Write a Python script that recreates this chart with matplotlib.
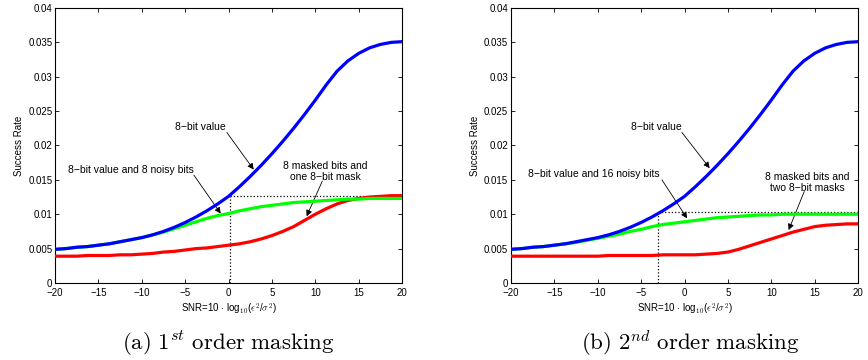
import matplotlib
matplotlib.use("Agg")
import matplotlib.pyplot as plt

# SNR grid (dB) and success rates
snr = [-20, -18.75, -17.5, -16.25, -15, -13.75, -12.5, -11.25, -10, -8.75, -7.5,
       -6.25, -5, -3.75, -2.5, -1.25, 0, 1.25, 2.5, 3.75, 5, 6.25, 7.5, 8.75,
       10, 11.25, 12.5, 13.75, 15, 16.25, 17.5, 18.75, 20]

blue_value = [0.0049, 0.0050, 0.0052, 0.0053, 0.0055, 0.0057, 0.0060, 0.0063, 0.0066,
              0.0070, 0.0075, 0.0081, 0.0088, 0.0096, 0.0105, 0.0115, 0.0126, 0.0140,
              0.0155, 0.0171, 0.0188, 0.0206, 0.0225, 0.0245, 0.0266, 0.0288, 0.0308,
              0.0323, 0.0334, 0.0342, 0.0347, 0.0350, 0.0351]

green_1st = [0.0049, 0.0050, 0.0052, 0.0053, 0.0055, 0.0057, 0.0060, 0.0063, 0.0066,
             0.0070, 0.0074, 0.0079, 0.0084, 0.0089, 0.0094, 0.0098, 0.0101, 0.0105,
             0.0108, 0.0111, 0.0113, 0.0115, 0.0117, 0.0118, 0.0119, 0.0120, 0.0121,
             0.0122, 0.0122, 0.0123, 0.0123, 0.0123, 0.0123]
red_1st = [0.0039, 0.0039, 0.0039, 0.0040, 0.0040, 0.0040, 0.0041, 0.0041, 0.0042,
           0.0043, 0.0045, 0.0046, 0.0048, 0.0050, 0.0051, 0.0053, 0.0055, 0.0057,
           0.0060, 0.0064, 0.0069, 0.0075, 0.0082, 0.0091, 0.0100, 0.0108, 0.0115,
           0.0120, 0.0123, 0.0125, 0.0126, 0.0127, 0.0127]

green_2nd = [0.0049, 0.0050, 0.0052, 0.0053, 0.0055, 0.0057, 0.0059, 0.0062, 0.0065,
             0.0068, 0.0071, 0.0075, 0.0078, 0.0082, 0.0085, 0.0087, 0.0089, 0.0091,
             0.0093, 0.0095, 0.0096, 0.0097, 0.0098, 0.0099, 0.0099, 0.0100, 0.0100,
             0.0100, 0.0100, 0.0100, 0.0100, 0.0100, 0.0100]
red_2nd = [0.0039, 0.0039, 0.0039, 0.0039, 0.0039, 0.0039, 0.0039, 0.0039, 0.0039,
           0.0040, 0.0040, 0.0040, 0.0040, 0.0040, 0.0041, 0.0041, 0.0041, 0.0041,
           0.0042, 0.0043, 0.0045, 0.0049, 0.0054, 0.0059, 0.0064, 0.0069, 0.0074,
           0.0078, 0.0082, 0.0084, 0.0085, 0.0086, 0.0086]

# crossing markers (dotted guides)
cross_1st = (0.2, 0.0126)
cross_2nd = (-3.0, 0.01035)

captions = [r"$\mathrm{(a)\ 1}^{st}\mathrm{\ order\ masking}$",
            r"$\mathrm{(b)\ 2}^{nd}\mathrm{\ order\ masking}$"]

plt.rcParams["font.family"] = ["Liberation Sans", "DejaVu Sans"]
plt.rcParams["mathtext.fontset"] = "cm"

fig = plt.figure(figsize=(8.68, 3.6), dpi=100)
ax1 = fig.add_axes([0.0634, 0.2139, 0.3998, 0.7639])
ax2 = fig.add_axes([0.5887, 0.2139, 0.3998, 0.7639])

panels = [
    (ax1, green_1st, red_1st, cross_1st,
     [("8\u2212bit value", (-3.3, 0.0227), (-0.2, 0.0219), (2.9, 0.0165)),
      ("8\u2212bit value and 8 noisy bits", (-11.3, 0.0164), (-4.0, 0.0157), (-0.9, 0.0101)),
      ("8 masked bits and\none 8\u2212bit mask", (11.2, 0.0162), (10.8, 0.0148), (9.0, 0.0097))]),
    (ax2, green_2nd, red_2nd, cross_2nd,
     [("8\u2212bit value", (-3.3, 0.0227), (-0.3, 0.0219), (2.9, 0.0167)),
      ("8\u2212bit value and 16 noisy bits", (-10.5, 0.0158), (-2.6, 0.0150), (0.3, 0.0094)),
      ("8 masked bits and\ntwo 8\u2212bit masks", (14.2, 0.0146), (13.8, 0.0133), (12.0, 0.0077))]),
]

for ax, green, red, cross, notes in panels:
    ax.plot(snr, red, color="#ff0000", lw=2.3, solid_capstyle="butt", zorder=3)
    ax.plot(snr, green, color="#00ff00", lw=2.3, solid_capstyle="butt", zorder=4)
    ax.plot(snr, blue_value, color="#0000ff", lw=2.3, solid_capstyle="butt", zorder=5)
    cx, cy = cross
    ax.plot([cx, cx], [0, cy], color="k", ls=":", lw=0.9, zorder=2)
    ax.plot([cx, 20], [cy, cy], color="k", ls=":", lw=0.9, zorder=2)
    for txt, tpos, tail, head in notes:
        ax.text(tpos[0], tpos[1], txt, fontsize=7.5, ha="center", va="center",
                linespacing=1.1)
        ax.annotate("", xy=head, xytext=tail,
                    arrowprops=dict(arrowstyle="-|>", color="k", lw=0.6,
                                    mutation_scale=9, shrinkA=0, shrinkB=0))
    ax.set_xlim(-20, 20)
    ax.set_ylim(0, 0.04)
    ax.set_xticks(range(-20, 21, 5))
    ax.set_yticks([0, 0.005, 0.01, 0.015, 0.02, 0.025, 0.03, 0.035, 0.04])
    ax.set_yticklabels(["0", "0.005", "0.01", "0.015", "0.02", "0.025",
                        "0.03", "0.035", "0.04"])
    ax.set_xticklabels(["\u221220", "\u221215", "\u221210", "\u22125", "0",
                        "5", "10", "15", "20"])
    ax.tick_params(direction="in", top=True, right=True, labelsize=7,
                   length=3, width=0.6, pad=2)
    ax.tick_params(axis="x", pad=3.5)
    for s in ax.spines.values():
        s.set_linewidth(0.8)
    ax.set_ylabel("Success Rate", fontsize=7, labelpad=3)
    ax.set_xlabel(r"SNR=10 $\cdot$ log$_{10}$($\epsilon^2$/$\sigma^2$)",
                  fontsize=7, labelpad=3)

fig.text(0.263, 0.047, captions[0], fontsize=16.5, ha="center", va="center")
fig.text(0.795, 0.047, captions[1], fontsize=16.5, ha="center", va="center")

fig.savefig("out.png", dpi=100)
